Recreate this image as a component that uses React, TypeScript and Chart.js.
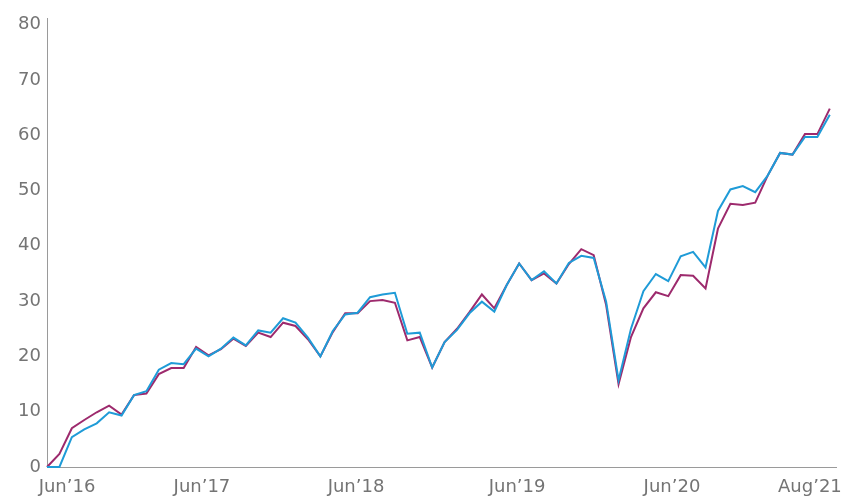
import { useEffect, useRef } from 'react';
import { Chart, registerables } from 'chart.js';

Chart.register(...registerables);

// Monthly observations, May'16 .. Aug'21
const months: string[] = [
  'May’16','Jun’16','Jul’16','Aug’16','Sep’16','Oct’16','Nov’16','Dec’16',
  'Jan’17','Feb’17','Mar’17','Apr’17','May’17','Jun’17','Jul’17','Aug’17','Sep’17','Oct’17','Nov’17','Dec’17',
  'Jan’18','Feb’18','Mar’18','Apr’18','May’18','Jun’18','Jul’18','Aug’18','Sep’18','Oct’18','Nov’18','Dec’18',
  'Jan’19','Feb’19','Mar’19','Apr’19','May’19','Jun’19','Jul’19','Aug’19','Sep’19','Oct’19','Nov’19','Dec’19',
  'Jan’20','Feb’20','Mar’20','Apr’20','May’20','Jun’20','Jul’20','Aug’20','Sep’20','Oct’20','Nov’20','Dec’20',
  'Jan’21','Feb’21','Mar’21','Apr’21','May’21','Jun’21','Jul’21','Aug’21',
];

const seriesBlue: number[] = [
  0, 0, 5.4, 6.8, 7.9, 9.9, 9.3, 13.0,
  13.7, 17.6, 18.8, 18.6, 21.4, 20.0, 21.4, 23.4, 22.0, 24.7, 24.3, 26.9,
  26.1, 23.4, 20.0, 24.6, 27.6, 27.9, 30.7, 31.2, 31.5, 24.1, 24.3, 18.0,
  22.6, 24.8, 27.8, 29.9, 28.1, 32.9, 36.8, 33.8, 35.4, 33.2, 36.9, 38.2,
  37.8, 29.9, 15.7, 25.0, 31.8, 34.9, 33.6, 38.1, 38.9, 36.1, 46.3, 50.2,
  50.8, 49.7, 52.7, 56.8, 56.5, 59.7, 59.7, 63.7,
];

const seriesPurple: number[] = [
  0, 2.35, 7.0, 8.5, 9.9, 11.1, 9.5, 13.0,
  13.3, 16.8, 17.9, 17.9, 21.7, 20.2, 21.3, 23.2, 21.9, 24.3, 23.5, 26.1,
  25.5, 23.1, 20.0, 24.4, 27.8, 27.8, 30.0, 30.2, 29.7, 22.9, 23.5, 18.0,
  22.6, 25.0, 28.0, 31.2, 28.7, 32.9, 36.8, 33.8, 35.0, 33.2, 36.7, 39.4,
  38.3, 29.3, 15.0, 23.5, 28.7, 31.6, 30.9, 34.7, 34.6, 32.3, 43.1, 47.6,
  47.4, 47.8, 52.7, 56.8, 56.5, 60.2, 60.2, 64.8,
];

const yTickValues: number[] = [0, 10, 20, 30, 40, 50, 60, 70, 80];
const xTickLabels: string[] = ['Jun’16', 'Jun’17', 'Jun’18', 'Jun’19', 'Jun’20', 'Aug’21'];
// where each x label sits, in month-index units
const xTickAt: number[] = [1.61, 12.47, 24.87, 37.83, 50.3, 61.4];

const FONT = { family: '"DejaVu Sans", sans-serif', size: 18 };
const TEXT = '#747474';
const AXIS = '#9a9a9a';

export default function App() {
  const ref = useRef<HTMLCanvasElement | null>(null);

  useEffect(() => {
    if (!ref.current) return;
    const toXY = (arr: number[]) => arr.map((v, i) => ({ x: i, y: v }));
    const chart = new Chart(ref.current, {
      type: 'line',
      data: {
        labels: months,
        datasets: [
          {
            label: 'Blue',
            data: toXY(seriesBlue),
            borderColor: '#1f9bd7',
            borderWidth: 2,
            pointRadius: 0,
            tension: 0,
            clip: false,
          },
          {
            label: 'Purple',
            data: toXY(seriesPurple),
            borderColor: '#9d2a6d',
            borderWidth: 2,
            pointRadius: 0,
            tension: 0,
            clip: false,
          },
        ],
      },
      options: {
        animation: false,
        responsive: false,
        maintainAspectRatio: false,
        layout: { padding: { left: 0, right: 8, top: 18, bottom: 0 } },
        plugins: { legend: { display: false }, tooltip: { enabled: false } },
        scales: {
          x: {
            type: 'linear',
            min: 0,
            max: 63.5,
            grid: { display: false, drawTicks: false },
            border: { display: true, color: AXIS, width: 1 },
            ticks: {
              font: FONT,
              color: TEXT,
              padding: 10,
              maxRotation: 0,
              autoSkip: false,
              callback: (_v: any, i: number) => xTickLabels[i] ?? '',
            },
            afterBuildTicks: (s: any) => {
              s.ticks = xTickAt.map((v) => ({ value: v }));
            },
            afterFit: (s: any) => {
              s.height = 29;
              s.paddingLeft = 0;
              s.paddingRight = 0;
            },
          },
          y: {
            type: 'linear',
            min: 0,
            max: 81.2,
            grid: { display: false, drawTicks: false },
            border: { display: true, color: AXIS, width: 1 },
            ticks: {
              font: FONT,
              color: TEXT,
              padding: 6,
              autoSkip: false,
            },
            afterBuildTicks: (s: any) => {
              s.ticks = yTickValues.map((v) => ({ value: v }));
            },
            afterFit: (s: any) => {
              s.width = 47;
            },
          },
        },
      },
    });
    return () => chart.destroy();
  }, []);

  return (
    <div style={{ position: 'absolute', left: 0, top: 0, width: 844, height: 496, background: '#fff' }}>
      <canvas ref={ref} width={844} height={496} style={{ width: 844, height: 496 }} />
    </div>
  );
}
